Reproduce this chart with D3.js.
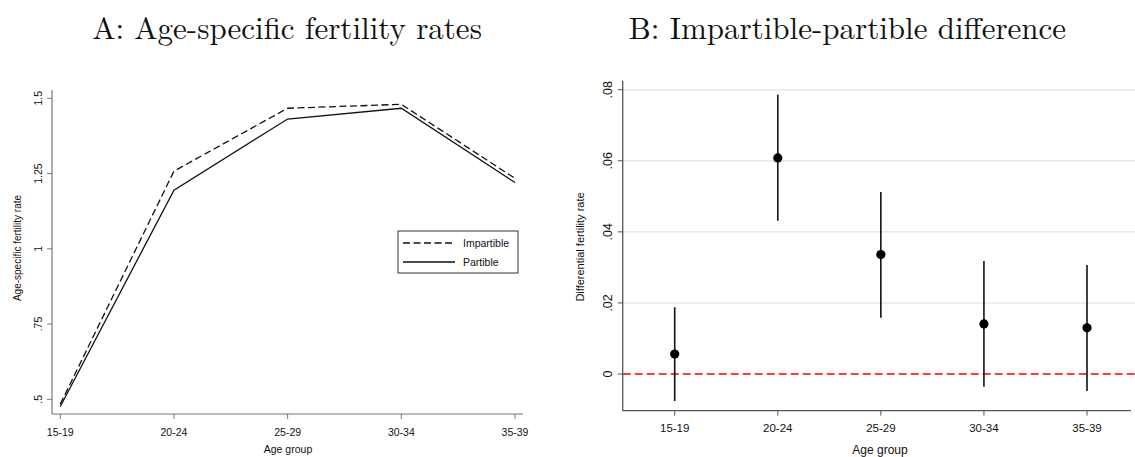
<!DOCTYPE html>
<html>
<head>
<meta charset="utf-8">
<script src="https://cdn.jsdelivr.net/npm/d3@7"></script>
<style>
  body { margin: 0; background: #fff; }
  svg text { font-family: "Liberation Sans", Arial, sans-serif; fill: #111; }
  svg text.title { font-family: "Latin Modern Roman", "Liberation Serif", serif; }
</style>
</head>
<body>
<div id="vis-display"></div>
<script>
// Two panels: age-specific fertility rates (lines) and impartible-partible difference (CI dots).

const AGE_GROUPS = ["15-19", "20-24", "25-29", "30-34", "35-39"];

const IMPARTIBLE = [0.484, 1.258, 1.467, 1.480, 1.234];
const PARTIBLE   = [0.476, 1.195, 1.431, 1.467, 1.220];

const DIFF_EST   = [0.0056, 0.0608, 0.0336, 0.0141, 0.0130];
const DIFF_LO    = [-0.0076, 0.0431, 0.0158, -0.0036, -0.0048];
const DIFF_HI    = [0.0188, 0.0786, 0.0512, 0.0318, 0.0307];

const A_TICKS = [0.5, 0.75, 1, 1.25, 1.5];
const B_TICKS = [0, 0.02, 0.04, 0.06, 0.08];

const W = 1135, H = 457;
const DASH = "7,3.5";

const svg = d3.select("#vis-display").append("svg")
  .attr("width", W)
  .attr("height", H);

const fmtA = d => d === 1 ? "1" : d3.format(".3~f")(d).replace(/^0\./, ".");
const fmtB = d => d === 0 ? "0" : d3.format(".2f")(d).replace(/^0\./, ".");

// ── Panel A ────────────────────────────────────────────────────────────────

const xA = d3.scalePoint().domain(AGE_GROUPS).range([60.3, 515]);
const yA = d3.scaleLinear().domain([0.5, 1.5]).range([399.3, 98.3]);
const A_LEFT = 52, A_BOTTOM = 414;

svg.append("text")
  .attr("class", "title")
  .attr("x", 287).attr("y", 39)
  .attr("text-anchor", "middle")
  .style("font-size", "31px")
  .text("A: Age-specific fertility rates");

const gA = svg.append("g");

// y axis
gA.append("line")
  .attr("x1", A_LEFT).attr("x2", A_LEFT)
  .attr("y1", 90).attr("y2", A_BOTTOM)
  .attr("stroke", "#777").attr("stroke-width", 1.2);
A_TICKS.forEach(t => {
  gA.append("line")
    .attr("x1", A_LEFT - 5).attr("x2", A_LEFT)
    .attr("y1", yA(t)).attr("y2", yA(t))
    .attr("stroke", "#777").attr("stroke-width", 1);
  gA.append("text")
    .attr("transform", `translate(${A_LEFT - 10},${yA(t)}) rotate(-90)`)
    .attr("text-anchor", "middle")
    .style("font-size", "10.5px")
    .text(fmtA(t));
});
gA.append("text")
  .attr("transform", `translate(21,248) rotate(-90)`)
  .attr("text-anchor", "middle")
  .style("font-size", "10px")
  .text("Age-specific fertility rate");

// x axis
gA.append("line")
  .attr("x1", A_LEFT).attr("x2", 523)
  .attr("y1", A_BOTTOM).attr("y2", A_BOTTOM)
  .attr("stroke", "#777").attr("stroke-width", 1.2);
AGE_GROUPS.forEach(c => {
  gA.append("line")
    .attr("x1", xA(c)).attr("x2", xA(c))
    .attr("y1", A_BOTTOM).attr("y2", A_BOTTOM + 5)
    .attr("stroke", "#777").attr("stroke-width", 1);
  gA.append("text")
    .attr("x", xA(c)).attr("y", A_BOTTOM + 22)
    .attr("text-anchor", "middle")
    .style("font-size", "10.5px")
    .text(c);
});
gA.append("text")
  .attr("x", 288).attr("y", 453)
  .attr("text-anchor", "middle")
  .style("font-size", "10.5px")
  .text("Age group");

const lineA = d3.line()
  .x((d, i) => xA(AGE_GROUPS[i]))
  .y(d => yA(d));

gA.append("path")
  .datum(IMPARTIBLE)
  .attr("d", lineA)
  .attr("fill", "none")
  .attr("stroke", "#111").attr("stroke-width", 1.3)
  .attr("stroke-dasharray", DASH);

gA.append("path")
  .datum(PARTIBLE)
  .attr("d", lineA)
  .attr("fill", "none")
  .attr("stroke", "#111").attr("stroke-width", 1.3);

// legend
const leg = gA.append("g").attr("transform", "translate(398,231)");
leg.append("rect")
  .attr("width", 120).attr("height", 42)
  .attr("fill", "#fff").attr("stroke", "#333").attr("stroke-width", 1);
[["Impartible", DASH], ["Partible", null]].forEach(([label, dash], i) => {
  const y = 12 + i * 19;
  leg.append("line")
    .attr("x1", 5).attr("x2", 57)
    .attr("y1", y).attr("y2", y)
    .attr("stroke", "#111").attr("stroke-width", 1.3)
    .attr("stroke-dasharray", dash);
  leg.append("text")
    .attr("x", 65).attr("y", y + 4)
    .style("font-size", "10.5px")
    .text(label);
});

// ── Panel B ────────────────────────────────────────────────────────────────

const xB = d3.scalePoint().domain(AGE_GROUPS).range([674.7, 1087]);
const yB = d3.scaleLinear().domain([0, 0.08]).range([374, 89.7]);
const B_LEFT = 622.7, B_BOTTOM = 410.7;

svg.append("text")
  .attr("class", "title")
  .attr("x", 847.5).attr("y", 39)
  .attr("text-anchor", "middle")
  .style("font-size", "31px")
  .text("B: Impartible-partible difference");

const gB = svg.append("g");

// grid
B_TICKS.filter(t => t !== 0).forEach(t => {
  gB.append("line")
    .attr("x1", B_LEFT).attr("x2", W)
    .attr("y1", yB(t)).attr("y2", yB(t))
    .attr("stroke", "#e8e8e8").attr("stroke-width", 1.5);
});

// zero line
gB.append("line")
  .attr("x1", B_LEFT).attr("x2", W)
  .attr("y1", yB(0)).attr("y2", yB(0))
  .attr("stroke", "#ff0000").attr("stroke-width", 1.4)
  .attr("stroke-dasharray", "8,4");

// y axis
gB.append("line")
  .attr("x1", B_LEFT).attr("x2", B_LEFT)
  .attr("y1", 80.7).attr("y2", B_BOTTOM)
  .attr("stroke", "#555").attr("stroke-width", 1.3);
B_TICKS.forEach(t => {
  gB.append("line")
    .attr("x1", B_LEFT - 5).attr("x2", B_LEFT)
    .attr("y1", yB(t)).attr("y2", yB(t))
    .attr("stroke", "#555").attr("stroke-width", 1);
  gB.append("text")
    .attr("transform", `translate(${B_LEFT - 11},${yB(t)}) rotate(-90)`)
    .attr("text-anchor", "middle")
    .style("font-size", "12.5px")
    .text(fmtB(t));
});
gB.append("text")
  .attr("transform", `translate(584,247) rotate(-90)`)
  .attr("text-anchor", "middle")
  .style("font-size", "11px")
  .text("Differential fertility rate");

// x axis
gB.append("line")
  .attr("x1", B_LEFT).attr("x2", 1131)
  .attr("y1", B_BOTTOM).attr("y2", B_BOTTOM)
  .attr("stroke", "#555").attr("stroke-width", 1.3);
AGE_GROUPS.forEach(c => {
  gB.append("line")
    .attr("x1", xB(c)).attr("x2", xB(c))
    .attr("y1", B_BOTTOM).attr("y2", B_BOTTOM + 5)
    .attr("stroke", "#555").attr("stroke-width", 1);
  gB.append("text")
    .attr("x", xB(c)).attr("y", B_BOTTOM + 21)
    .attr("text-anchor", "middle")
    .style("font-size", "11.5px")
    .text(c);
});
gB.append("text")
  .attr("x", 880).attr("y", 454)
  .attr("text-anchor", "middle")
  .style("font-size", "12px")
  .text("Age group");

// error bars and points
gB.append("g")
  .selectAll("line")
  .data(AGE_GROUPS)
  .join("line")
    .attr("x1", d => xB(d)).attr("x2", d => xB(d))
    .attr("y1", (d, i) => yB(DIFF_LO[i]))
    .attr("y2", (d, i) => yB(DIFF_HI[i]))
    .attr("stroke", "#111").attr("stroke-width", 1.6);

gB.append("g")
  .selectAll("circle")
  .data(AGE_GROUPS)
  .join("circle")
    .attr("cx", d => xB(d))
    .attr("cy", (d, i) => yB(DIFF_EST[i]))
    .attr("r", 4.6)
    .attr("fill", "#000");
</script>
</body>
</html>
